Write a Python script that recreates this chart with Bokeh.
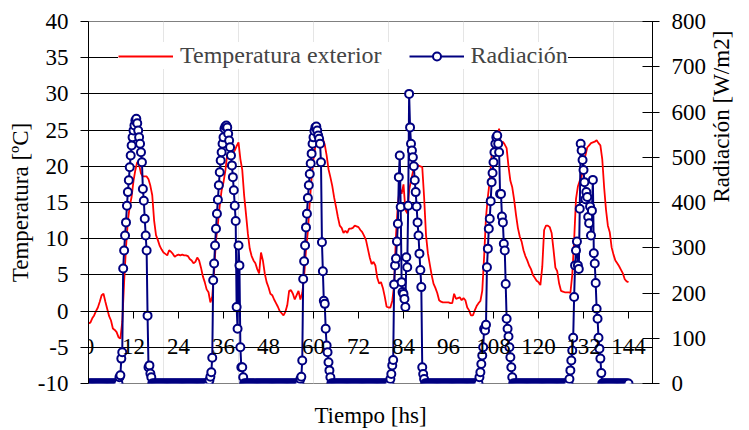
import math
import numpy as np
from bokeh.plotting import figure
from bokeh.models import (Range1d, LinearAxis, FixedTicker, Legend, LegendItem,
                          PrintfTickFormatter)
from bokeh.embed import file_html
from bokeh.resources import INLINE

# ---------------- data ----------------
temp_step_h = 0.5  # temperature sampled every half hour, starting at t = 0 h
temperatura = [
    -1.7, -1.6, -1.0, -0.6, 0.0, 0.5, 1.3, 2.2, 2.4, 1.3, 0.3, -0.7,
    -1.3, -2.4, -2.6, -2.9, -3.6, -3.8, -1.5, 4.0, 8.8, 12.5, 14.5, 15.8,
    18.0, 19.5, 20.6, 20.2, 19.0, 18.6, 18.6, 18.6, 18.2, 17.3, 16.0, 12.5,
    10.5, 9.8, 9.0, 8.5, 8.1, 7.9, 7.7, 8.4, 8.2, 7.9, 7.5, 7.7,
    7.8, 7.7, 7.8, 7.7, 7.7, 7.6, 7.2, 7.0, 6.6, 6.8, 7.4, 7.0,
    6.0, 4.8, 4.0, 3.0, 2.6, 1.2, 2.0, 5.5, 9.8, 12.0, 14.6, 16.7,
    17.8, 19.4, 21.7, 21.7, 21.7, 21.8, 22.2, 22.8, 23.3, 21.0, 19.5, 16.0,
    13.4, 10.7, 8.6, 7.6, 7.0, 6.6, 5.8, 5.2, 8.1, 7.0, 5.2, 4.0,
    3.3, 2.4, 2.2, 1.6, 1.1, 0.6, 0.0, -0.3, -0.6, -0.1, 0.8, 2.8,
    2.9, 2.4, 1.6, 2.2, 2.8, 1.6, 2.5, 4.8, 8.5, 11.0, 15.0, 18.5,
    21.0, 22.8, 23.5, 23.2, 23.4, 23.8, 23.0, 21.5, 19.6, 18.5, 17.3, 15.7,
    14.4, 13.0, 11.8, 11.5, 10.8, 11.1, 10.8, 11.4, 11.4, 11.5, 11.8, 11.7,
    11.6, 11.2, 10.9, 10.4, 9.8, 8.6, 7.4, 6.5, 6.8, 6.3, 4.6, 3.8,
    4.0, 3.2, 2.0, 0.6, 0.5, 0.5, 1.4, 3.6, 10.5, 14.8, 17.0, 16.2,
    17.5, 14.0, 13.5, 16.7, 18.0, 19.2, 20.0, 20.3, 20.1, 20.0, 19.9, 15.7,
    10.5, 8.0, 6.5, 5.0, 3.8, 3.2, 2.5, 1.5, 1.3, 1.2, 1.2, 1.2,
    1.2, 1.1, 1.1, 2.4, 1.7, 1.8, 1.9, 1.5, 1.8, 1.5, 0.5, 0.1,
    -0.6, -0.6, 0.1, 0.7, 1.1, 1.4, 2.8, 7.5, 13.0, 15.8, 18.0, 21.5,
    22.8, 23.5, 24.3, 25.2, 22.8, 23.4, 23.0, 22.5, 20.0, 18.0, 17.1, 15.4,
    13.3, 11.5, 10.3, 9.6, 8.4, 7.6, 7.0, 6.3, 5.8, 5.0, 4.6, 4.2,
    4.0, 3.6, 6.1, 11.2, 11.8, 11.8, 11.6, 10.8, 8.5, 6.0, 5.5, 3.8,
    2.8, 2.7, 2.6, 2.6, 2.6, 2.5, 5.0, 9.8, 15.5, 17.2, 18.0, 18.6,
    20.4, 21.5, 22.6, 22.9, 23.2, 23.3, 23.4, 23.6, 23.2, 22.9, 21.0, 17.1,
    14.0, 11.8, 10.9, 8.8, 7.8, 7.0, 6.6, 6.2, 5.7, 5.2, 4.4, 4.1,
    4.0,
]

rad_step_h = 0.25   # radiation sampled every quarter hour
rad_end_h = 144.0   # last radiation sample (night values are 0 W/m2)
rad_day_start_h = [8.0, 32.0, 56.25, 80.25, 104.0, 128.0]
rad_day1 = [0, 14, 18, 55, 69, 254, 294, 327, 356, 393, 423, 449, 478, 504, 526,
            544, 559, 570, 581, 585, 575, 559, 544, 530, 511, 489, 430, 404, 364,
            327, 294, 150, 36, 40, 22, 14, 0]
rad_day2 = [0, 7, 15, 25, 57, 228, 265, 305, 342, 375, 406, 438, 467, 493, 511,
            530, 544, 563, 568, 570, 566, 552, 537, 522, 504, 482, 456, 427, 393,
            359, 169, 121, 305, 261, 80, 36, 36, 14, 0]
rad_day3 = [0, 10, 15, 51, 231, 270, 305, 345, 375, 410, 438, 463, 486, 508, 530,
            544, 558, 566, 568, 559, 548, 541, 530, 489, 312, 248, 183, 176, 121,
            84, 69, 47, 29, 14, 0]
rad_day4 = [0, 10, 21, 40, 52, 219, 261, 276, 314, 353, 456, 504, 390, 224, 202,
            198, 187, 169, 279, 257, 393, 640, 566, 530, 515, 500, 480, 449, 423,
            391, 356, 327, 287, 251, 213, 36, 21, 10, 0]
rad_day5 = [0, 14, 25, 43, 62, 80, 121, 117, 130, 257, 298, 342, 364, 403, 445,
            465, 489, 511, 530, 544, 548, 530, 511, 419, 419, 369, 356, 309, 294,
            220, 143, 121, 104, 80, 58, 36, 14, 0]
rad_day6 = [0, 10, 29, 51, 73, 101, 191, 261, 294, 314, 261, 253, 386, 530, 515,
            494, 472, 445, 407, 423, 412, 368, 354, 391, 327, 382, 450, 288, 265,
            222, 165, 143, 101, 77, 55, 23, 0]
rad_days = [rad_day1, rad_day2, rad_day3, rad_day4, rad_day5, rad_day6]

x_ticks = [0, 12, 24, 36, 48, 60, 72, 84, 96, 108, 120, 132, 144]
temp_ticks = [-10, -5, 0, 5, 10, 15, 20, 25, 30, 35, 40]
rad_ticks = [0, 100, 200, 300, 400, 500, 600, 700, 800]

# ---------------- build series ----------------
t_temp = np.arange(len(temperatura)) * temp_step_h
n_rad = int(round(rad_end_h / rad_step_h)) + 1
t_rad = np.arange(n_rad) * rad_step_h
rad = np.zeros(n_rad)
for start, vals in zip(rad_day_start_h, rad_days):
    i0 = int(round(start / rad_step_h))
    rad[i0:i0 + len(vals)] = vals

FONT = "Liberation Serif"
RED = "#ff0000"
NAVY = "#000080"

p = figure(width=749, height=430, output_backend="svg", toolbar_location=None,
           x_range=Range1d(0, 150.4), y_range=Range1d(-10, 40),
           x_axis_location=None,
           min_border_left=88, min_border_right=86, min_border_top=21, min_border_bottom=47,
           background_fill_color="white", border_fill_color="white",
           outline_line_color="#808080", outline_line_width=1)
p.extra_y_ranges = {"rad": Range1d(0, 800)}

# grid
p.ygrid.ticker = FixedTicker(ticks=temp_ticks)
p.ygrid.grid_line_color = "#000000"
p.ygrid.grid_line_width = 1

# left axis
ya = p.yaxis[0]
ya.ticker = FixedTicker(ticks=temp_ticks)
ya.formatter = PrintfTickFormatter(format="%d")
ya.axis_label = "Temperatura [ºC]"
ya.major_tick_out = 8
ya.major_tick_in = 0
ya.minor_tick_out = 0
ya.minor_tick_in = 0
ya.major_label_standoff = 12
ya.axis_label_standoff = 2
ya.axis_line_color = "black"
ya.major_tick_line_color = "black"

# right axis
ra = LinearAxis(y_range_name="rad", ticker=FixedTicker(ticks=rad_ticks),
                formatter=PrintfTickFormatter(format="%d"),
                axis_label="Radiación [W/m2]")
ra.major_tick_out = 7
ra.major_tick_in = 10
ra.minor_tick_out = 0
ra.minor_tick_in = 0
ra.major_label_standoff = 12
ra.axis_label_standoff = 12
try:
    ra.axis_label_orientation = math.pi / 2
except Exception:
    pass
p.add_layout(ra, "right")

# x axis pinned at temperature 0
xa = LinearAxis(fixed_location=0, ticker=FixedTicker(ticks=x_ticks),
                formatter=PrintfTickFormatter(format="%d"))
xa.major_tick_out = 7
xa.major_tick_in = 0
xa.minor_tick_out = 0
xa.minor_tick_in = 0
xa.major_label_standoff = 21
p.add_layout(xa, "below")

# x-axis title (axis without ticks, at the bottom edge)
xt = LinearAxis(ticker=FixedTicker(ticks=[]), axis_label="Tiempo [hs]")
xt.axis_line_color = None
xt.major_tick_out = 0
xt.major_tick_in = 0
xt.minor_tick_out = 0
xt.minor_tick_in = 0
xt.major_label_standoff = 0
xt.axis_label_standoff = 19
p.add_layout(xt, "below")

for ax in (ya, ra, xa, xt):
    ax.major_label_text_font = FONT
    ax.major_label_text_font_size = "23px"
    ax.major_label_text_color = "black"
    ax.axis_label_text_font = FONT
    ax.axis_label_text_font_size = "23px"
    ax.axis_label_text_font_style = "normal"
    ax.axis_label_text_color = "black"

# series
r_temp = p.line(t_temp, temperatura, line_color=RED, line_width=1.8)
r_rad_line = p.line(t_rad, rad, y_range_name="rad", line_color=NAVY, line_width=2)
r_rad_pts = p.scatter(t_rad, rad, y_range_name="rad", marker="circle", size=8,
                      line_color=NAVY, fill_color="white", line_width=2)

legend = Legend(items=[LegendItem(label="Temperatura exterior", renderers=[r_temp]),
                       LegendItem(label="Radiación", renderers=[r_rad_line, r_rad_pts])],
                orientation="horizontal", location=(30, 314),
                label_text_font=FONT, label_text_font_size="24px",
                glyph_width=55, glyph_height=20, spacing=27, label_standoff=7,
                padding=15, margin=0, border_line_color=None,
                background_fill_color="white", background_fill_alpha=1.0)
p.add_layout(legend)

open("out.html", "w").write(file_html(p, INLINE))
